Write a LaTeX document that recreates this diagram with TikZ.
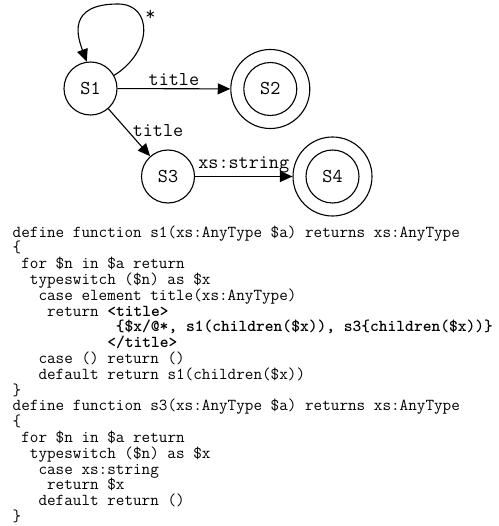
\documentclass[tikz,border=0pt]{standalone}
\usepackage{fontspec}
\usetikzlibrary{arrows.meta}
\newcommand{\lblfont}{\ttfamily\fontsize{19.6}{22}\selectfont}
\begin{document}
\begin{tikzpicture}[x=1pt,y=-1pt,
  state/.style={circle, draw, line width=1.1pt, minimum size=53pt, inner sep=0pt,
    font=\lblfont},
  outer/.style={circle, draw, line width=1.1pt, minimum size=79pt, inner sep=0pt},
  trans/.style={line width=1.1pt, -{Triangle[length=12.5pt,width=11pt]}},
  lbl/.style={font=\lblfont, inner sep=0pt}]
\useasboundingbox (0,0) rectangle (498,526);
% states
\node[state] (S1) at (90.5,88.5) {S1};
\node[outer] (S2) at (270.3,89) {};
\node[state] (S2i) at (270.3,89) {S2};
\node[state] (S3) at (168,176.5) {S3};
\node[outer] (S4) at (332.5,176.5) {};
\node[state] (S4i) at (332.5,176.5) {S4};
% transitions
\coordinate (looptop) at (118,4);
\draw[trans] (S1.29) .. controls (154,50) and (152,4) .. (looptop)
  .. controls (66,4) and (78,38) .. (S1.98);
\node[lbl, anchor=base] (star) at (150.5,21) {*};
\draw[trans] (S1) -- node[lbl, anchor=base, yshift=3pt] (t1) {title} (S2);
\draw[trans] (S1) -- node[lbl, anchor=base west, xshift=3pt, yshift=-4.3pt] (t2) {title} (S3);
\draw[trans] (S3) -- node[lbl, anchor=base, yshift=8pt] (t3) {xs:string} (S4);
% code
\node[anchor=base west, inner sep=0pt, font=\ttfamily\fontsize{16.7}{15.8}\selectfont] (code) at (12.5,237)
{\vtop{\baselineskip=15.8pt\lineskiplimit=-20pt\lineskip=0pt
\hbox{define function s1(xs:AnyType \$a) returns xs:AnyType}
\hbox{\{}
\hbox{~for \$n in \$a return}
\hbox{~~typeswitch (\$n) as \$x}
\hbox{~~~case element title(xs:AnyType)}
\hbox{~~~~return \textbf{<title>}}
\hbox{~~~~~~~~~~~~\textbf{\{\$x/@*, s1(children(\$x)), s3\{children(\$x))\}}}
\hbox{~~~~~~~~~~~\textbf{</title>}}
\hbox{~~~case () return ()}
\hbox{~~~default return s1(children(\$x))}
\hbox{\}}
\hbox{define function s3(xs:AnyType \$a) returns xs:AnyType}
\hbox{\{}
\hbox{~for \$n in \$a return}
\hbox{~~typeswitch (\$n) as \$x}
\hbox{~~~case xs:string}
\hbox{~~~~return \$x}
\hbox{~~~default return ()}
\hbox{\}}}};
\end{tikzpicture}
\end{document}
